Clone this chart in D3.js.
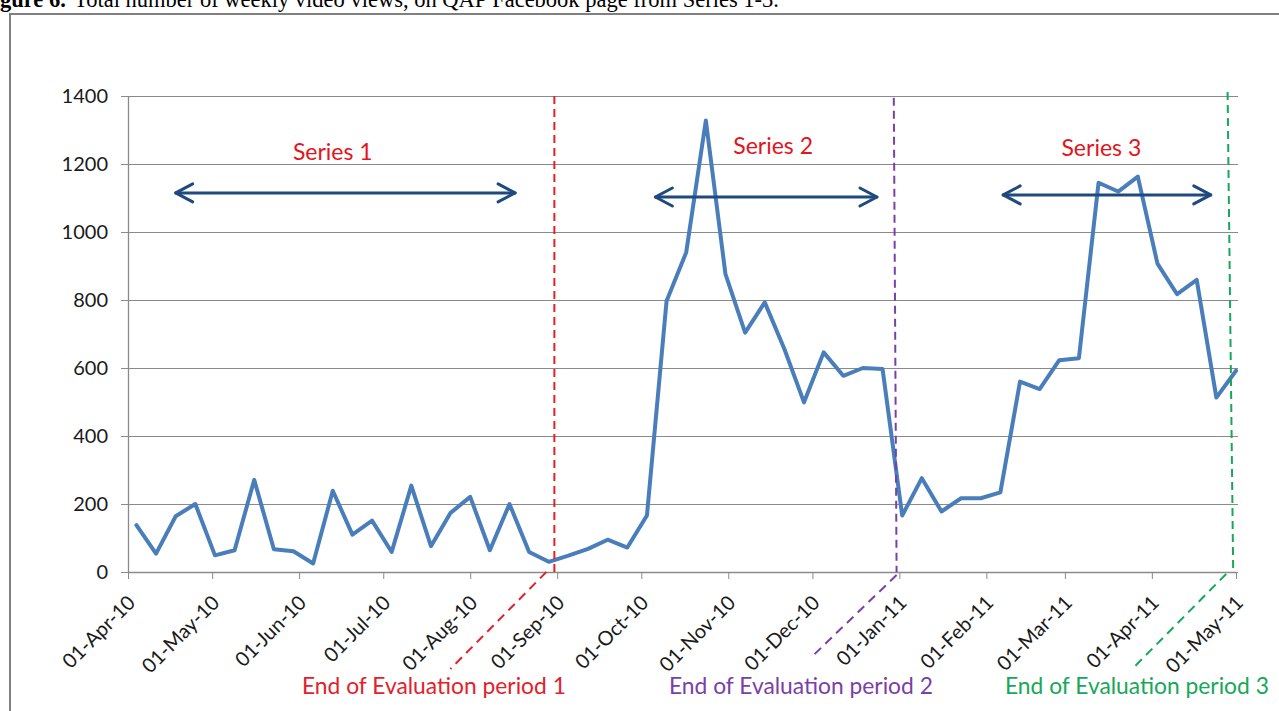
<!DOCTYPE html>
<html>
<head>
<meta charset="utf-8">
<script src="https://cdn.jsdelivr.net/npm/d3@7"></script>
<style>
  html, body { margin: 0; padding: 0; background: #fff; }
  svg { display: block; }
</style>
</head>
<body>
<svg id="chart" width="1279" height="711"></svg>
<script>
// Week-ending dates (Sundays) and total weekly video views
const weekDates = [
  "2010-04-04","2010-04-11","2010-04-18","2010-04-25",
  "2010-05-02","2010-05-09","2010-05-16","2010-05-23","2010-05-30",
  "2010-06-06","2010-06-13","2010-06-20","2010-06-27",
  "2010-07-04","2010-07-11","2010-07-18","2010-07-25",
  "2010-08-01","2010-08-08","2010-08-15","2010-08-22","2010-08-29",
  "2010-09-05","2010-09-12","2010-09-19","2010-09-26",
  "2010-10-03","2010-10-10","2010-10-17","2010-10-24","2010-10-31",
  "2010-11-07","2010-11-14","2010-11-21","2010-11-28",
  "2010-12-05","2010-12-12","2010-12-19","2010-12-26",
  "2011-01-02","2011-01-09","2011-01-16","2011-01-23","2011-01-30",
  "2011-02-06","2011-02-13","2011-02-20","2011-02-27",
  "2011-03-06","2011-03-13","2011-03-20","2011-03-27",
  "2011-04-03","2011-04-10","2011-04-17","2011-04-24",
  "2011-05-01"
];
const weeklyViews = [
  138, 54, 164, 200,
  49, 64, 271, 67, 61,
  25, 239, 110, 151,
  59, 254, 76, 174,
  221, 64, 200, 59, 30,
  48, 68, 95, 72,
  166, 797, 940, 1328, 876,
  704, 793, 656, 499,
  646, 577, 600, 597,
  166, 276, 178, 217, 217,
  234, 560, 538, 623,
  629, 1145, 1119, 1163,
  907, 817, 859, 513,
  592
];

// Axis ticks
const yTickValues = [0, 200, 400, 600, 800, 1000, 1200, 1400];
const monthTickDates = [
  "2010-04-01","2010-05-01","2010-06-01","2010-07-01","2010-08-01",
  "2010-09-01","2010-10-01","2010-11-01","2010-12-01","2011-01-01",
  "2011-02-01","2011-03-01","2011-04-01","2011-05-01"
];

// Series broadcast spans (double-headed arrows) and their names
const seriesNames = ["Series 1", "Series 2", "Series 3"];
const seriesNameDates = ["2010-06-13", "2010-11-17", "2011-03-14"];
const seriesNameValues = [1235, 1253, 1247];
const seriesSpanStarts = ["2010-04-18", "2010-10-06", "2011-02-07"];
const seriesSpanEnds = ["2010-08-17", "2010-12-24", "2011-04-22"];
const seriesSpanValues = [1115, 1103, 1109];

// End of each evaluation period
const periodEndLabels = ["End of Evaluation period 1", "End of Evaluation period 2", "End of Evaluation period 3"];
const periodEndTopDates = ["2010-08-31", "2010-12-30", "2011-04-28"];
const periodEndBottomDates = ["2010-08-31", "2010-12-31", "2011-04-30"];
const periodEndTopValues = [1400, 1395, 1412];

// Styling and annotation layout
const periodColors = ["#e5202b", "#7a40a6", "#16a85a"];
const leaderLayout = [
  { dx0: -8, dy0: 0, dx1: -104, y1: 669, textX: 302 },
  { dx0: 0, dy0: 3, dx1: -85, y1: 657, textX: 669 },
  { dx0: -7, dy0: 2, dx1: -99, y1: 667, textX: 1005 }
];
const plot = { left: 128, right: 1236, top: 96, bottom: 572 };
const sansFont = "Lato, 'Open Sans', sans-serif";

const parse = d3.timeParse("%Y-%m-%d");
const svg = d3.select("#chart");

const x = d3.scaleTime()
  .domain([parse(monthTickDates[0]), parse(monthTickDates[monthTickDates.length - 1])])
  .range([plot.left, plot.right]);
const y = d3.scaleLinear().domain([0, 1400]).range([plot.bottom, plot.top]);

// Figure frame
svg.append("rect")
  .attr("x", 10).attr("y", 14).attr("width", 1320).attr("height", 740)
  .attr("fill", "none").attr("stroke", "#808080").attr("stroke-width", 2);

// Figure caption
const caption = svg.append("text")
  .attr("y", 7)
  .attr("font-family", "'Liberation Serif', 'Times New Roman', serif")
  .attr("font-size", 22.5)
  .attr("fill", "#000");
caption.append("tspan").attr("x", -20).attr("font-weight", "bold").text("Figure 6.");
caption.append("tspan").attr("x", 74).text("Total number of weekly video views, on QAP Facebook page from Series 1-3.");

// Horizontal gridlines
svg.append("g")
  .attr("transform", `translate(${plot.left},0)`)
  .call(d3.axisLeft(y).tickValues(yTickValues).tickSize(-(plot.right - plot.left + 2)).tickFormat(""))
  .call(g => g.select(".domain").remove())
  .call(g => g.selectAll("line").attr("stroke", "#8a8a8a").attr("stroke-width", 1));

// Y axis
const yAxis = svg.append("g")
  .attr("transform", `translate(${plot.left},0)`)
  .call(d3.axisLeft(y).tickValues(yTickValues).tickFormat(d3.format("d"))
    .tickSize(7).tickSizeOuter(0).tickPadding(13));
yAxis.select(".domain").attr("stroke", "#8a8a8a").attr("stroke-width", 1.3);
yAxis.selectAll(".tick line").attr("stroke", "#8a8a8a");
yAxis.selectAll("text")
  .attr("font-family", sansFont).attr("font-size", 20).attr("fill", "#1a1a1a");

// X axis (monthly date ticks, rotated labels)
const xAxis = svg.append("g")
  .attr("transform", `translate(0,${plot.bottom})`)
  .call(d3.axisBottom(x)
    .tickValues(monthTickDates.map(parse))
    .tickSize(7).tickSizeOuter(0)
    .tickFormat(d3.timeFormat("%d-%b-%y")));
xAxis.select(".domain").attr("stroke", "#8a8a8a").attr("stroke-width", 1.5);
xAxis.selectAll(".tick line").attr("stroke", "#8a8a8a");
xAxis.selectAll("text")
  .attr("font-family", sansFont).attr("font-size", 20).attr("fill", "#1a1a1a")
  .attr("text-anchor", "end")
  .attr("x", 0).attr("y", 0).attr("dy", "0.35em")
  .attr("transform", "translate(3,27) rotate(-45)");

// Weekly views line
const line = d3.line()
  .x((d, i) => x(parse(weekDates[i])))
  .y(d => y(d));
svg.append("path")
  .datum(weeklyViews)
  .attr("d", line)
  .attr("fill", "none")
  .attr("stroke", "#4a7ebb")
  .attr("stroke-width", 4)
  .attr("stroke-linejoin", "round")
  .attr("stroke-linecap", "round");

// Evaluation period markers: vertical dashed line, dashed leader and caption
const periods = svg.append("g");
periodEndLabels.forEach((label, i) => {
  const xt = x(parse(periodEndTopDates[i]));
  const xb = x(parse(periodEndBottomDates[i]));
  const lay = leaderLayout[i];
  periods.append("line")
    .attr("x1", xt).attr("y1", y(periodEndTopValues[i]))
    .attr("x2", xb).attr("y2", y(0))
    .attr("stroke", periodColors[i]).attr("stroke-width", 2)
    .attr("stroke-dasharray", "8,5");
  periods.append("line")
    .attr("x1", xb + lay.dx0).attr("y1", y(0) + lay.dy0)
    .attr("x2", xb + lay.dx1).attr("y2", lay.y1)
    .attr("stroke", periodColors[i]).attr("stroke-width", 2)
    .attr("stroke-dasharray", "9,6");
  periods.append("text")
    .attr("x", lay.textX).attr("y", 694)
    .attr("font-family", sansFont).attr("font-size", 22.8)
    .attr("fill", periodColors[i])
    .text(label);
});

// Series spans: double-headed arrows with names
const spans = svg.append("g")
  .attr("stroke", "#1f4a7e").attr("stroke-width", 3)
  .attr("fill", "none").attr("stroke-linecap", "round").attr("stroke-linejoin", "round");
seriesNames.forEach((name, i) => {
  const x0 = x(parse(seriesSpanStarts[i]));
  const x1 = x(parse(seriesSpanEnds[i]));
  const yv = y(seriesSpanValues[i]);
  spans.append("line").attr("x1", x0).attr("y1", yv).attr("x2", x1).attr("y2", yv);
  spans.append("polyline").attr("points", `${x0 + 17},${yv - 9} ${x0},${yv} ${x0 + 17},${yv + 9}`);
  spans.append("polyline").attr("points", `${x1 - 17},${yv - 9} ${x1},${yv} ${x1 - 17},${yv + 9}`);
  svg.append("text")
    .attr("x", x(parse(seriesNameDates[i])))
    .attr("y", y(seriesNameValues[i]))
    .attr("dy", "0.35em")
    .attr("text-anchor", "middle")
    .attr("font-family", sansFont).attr("font-size", 23)
    .attr("fill", "#e3141b")
    .text(name);
});
</script>
</body>
</html>
